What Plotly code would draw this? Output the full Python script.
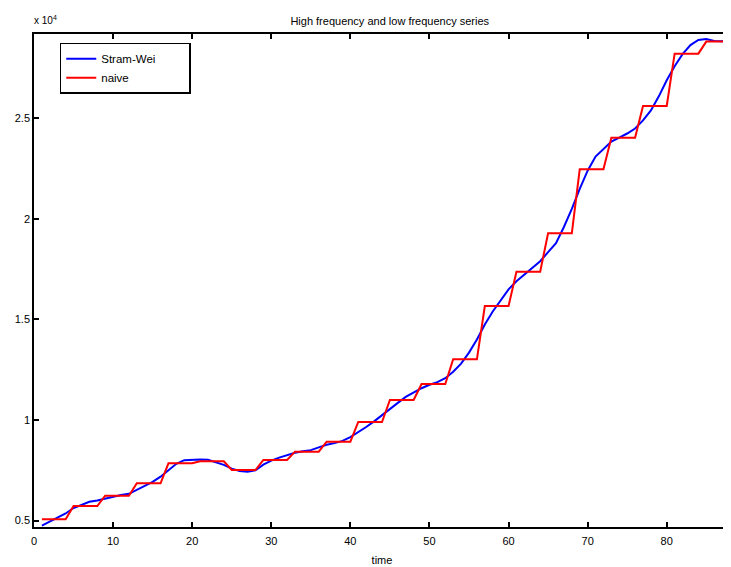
import plotly.graph_objects as go

# time index (quarters)
time = list(range(1, 89))

# Stram-Wei high-frequency (quarterly) series
stram_wei = [
    4750, 4950, 5150, 5350, 5620, 5780, 5930, 6000,
    6100, 6200, 6270, 6330, 6520, 6720, 6920, 7180,
    7500, 7820, 8000, 8030, 8030, 8020, 7900, 7770,
    7580, 7460, 7430, 7500, 7780, 7980, 8130, 8260,
    8370, 8440, 8500, 8640, 8770, 8850, 8960, 9150,
    9380, 9650, 9930, 10250, 10560, 10850, 11150, 11380,
    11580, 11750, 11880, 12080, 12400, 12800, 13350, 14000,
    14750, 15400, 15950, 16500, 16900, 17250, 17550, 17900,
    18350, 18800, 19600, 20500, 21500, 22400, 23100, 23500,
    23850, 24050, 24250, 24500, 24900, 25400, 26100, 26900,
    27600, 28200, 28650, 28900, 28950, 28850, 28821, 28821,
]

# naive series: one level per year, held over the four quarters
naive_annual = [5060, 5720, 6235, 6850, 7845, 7945, 7512, 8010, 8424, 8921, 9900,
                10995, 11791, 13020, 15671, 17378, 19288, 22472, 24044, 25621, 28223, 28821]
naive = [v for v in naive_annual for _ in range(4)]

y_tickvals = [5000, 10000, 15000, 20000, 25000]
y_ticktext = ["0.5", "1", "1.5", "2", "2.5"]
x_tickvals = [0, 10, 20, 30, 40, 50, 60, 70, 80]

font_family = "Liberation Sans, Arial, sans-serif"
pad = "\u00a0" * 9

fig = go.Figure()
fig.add_trace(go.Scatter(x=time, y=stram_wei, mode="lines", name="Stram-Wei" + pad,
                         line=dict(color="#0000ff", width=2)))
fig.add_trace(go.Scatter(x=time, y=naive, mode="lines", name="naive",
                         line=dict(color="#ff0000", width=2)))

fig.update_layout(
    width=723, height=559,
    margin=dict(l=26, r=1, t=26, b=40, autoexpand=False),
    paper_bgcolor="white", plot_bgcolor="white",
    font=dict(family=font_family, size=11, color="black"),
    title=dict(text="High frequency and low frequency series", x=0.528, xanchor="center",
               y=0.977, yanchor="middle", font=dict(size=11, color="black")),
    showlegend=True,
    legend=dict(x=0.037, y=0.982, xanchor="left", yanchor="top",
                bgcolor="white", bordercolor="black", borderwidth=1.5,
                font=dict(size=11.5), tracegroupgap=0, itemwidth=30),
    annotations=[dict(text="x 10<sup>4</sup>", x=0, xref="paper", xanchor="left",
                      y=1.0, yref="paper", yanchor="bottom", yshift=6, xshift=-2,
                      showarrow=False, font=dict(size=10))],
)

fig.update_xaxes(range=[0, 88], tickvals=x_tickvals, ticks="inside", ticklen=5,
                 tickwidth=1.5, tickcolor="black", showline=True, linecolor="black",
                 linewidth=1.5, mirror="ticks", showgrid=False, zeroline=False,
                 automargin=False, ticklabelstandoff=3,
                 title=dict(text="time", font=dict(size=11), standoff=10))
fig.update_yaxes(range=[4677, 29200], tickvals=y_tickvals, ticktext=y_ticktext,
                 ticks="inside", ticklen=5, tickwidth=1.5, tickcolor="black",
                 showline=True, linecolor="black", linewidth=1.5, mirror="ticks",
                 showgrid=False, zeroline=False, automargin=False)

fig.write_html("out.html")
